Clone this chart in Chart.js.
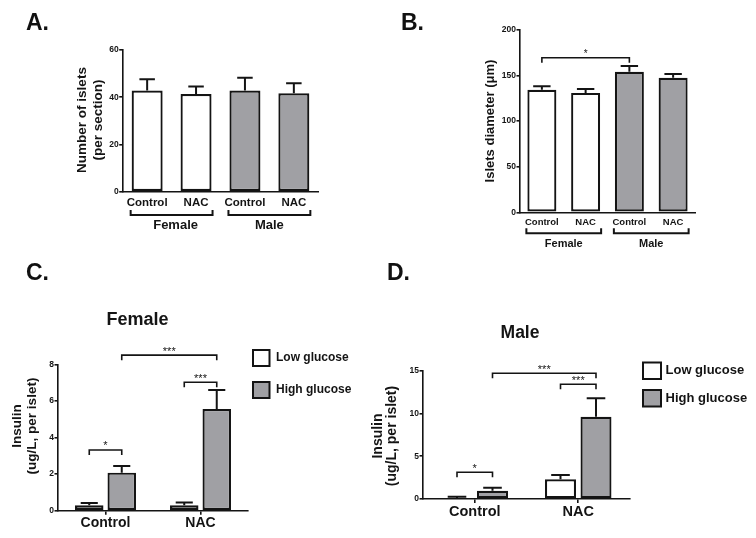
<!DOCTYPE html>
<html><head><meta charset="utf-8">
<script src="https://cdn.jsdelivr.net/npm/chart.js@4"></script>
<style>
html,body{margin:0;padding:0;background:#fff;width:756px;height:538px;overflow:hidden;}
canvas{position:absolute;left:0;top:0;}
.lbl{position:absolute;font:bold 23px "Liberation Sans",Arial,sans-serif;color:#111;line-height:23px;}
</style></head><body>
<canvas id="cA" width="756" height="538"></canvas>
<canvas id="cB" width="756" height="538"></canvas>
<canvas id="cC" width="756" height="538"></canvas>
<canvas id="cD" width="756" height="538"></canvas>
<div class="lbl" style="left:26px;top:11px">A.</div>
<div class="lbl" style="left:401px;top:11px">B.</div>
<div class="lbl" style="left:26px;top:261px">C.</div>
<div class="lbl" style="left:387px;top:261px">D.</div>
<script>
// ---------- data ----------
const treatCats = ['Control', 'NAC', 'Control', 'NAC'];
const sexGroups = ['Female', 'Male'];
const isletCount = [42.8, 41.4, 42.8, 41.7];
const isletCountErr = [4.8, 3.1, 5.4, 4.2];
const isletDiam = [134.5, 131.0, 154.2, 147.5];
const isletDiamErr = [3.8, 4.2, 6.2, 4.1];
const glucoseCats = ['Control', 'NAC'];
const seriesNames = ['Low glucose', 'High glucose'];
const femaleLow = [0.30, 0.30];
const femaleLowErr = [0.12, 0.15];
const femaleHigh = [2.08, 5.56];
const femaleHighErr = [0.36, 1.04];
const maleLow = [0.10, 2.30];
const maleLowErr = [0.17, 0.50];
const maleHigh = [0.97, 9.62];
const maleHighErr = [0.35, 2.15];
const ticksA = [0, 20, 40, 60];
const ticksB = [0, 50, 100, 150, 200];
const ticksC = [0, 2, 4, 6, 8];
const ticksD = [0, 5, 10, 15];
// significance: [dataset, index] pairs, bracket level (data units), label
const sigB = [{from: [0, 0], to: [0, 2], level: 169.6, label: '*'}];
const sigC = [
  {from: [0, 0], to: [1, 0], level: 3.32, label: '*'},
  {from: [0, 1], to: [1, 1], level: 7.02, label: '***'},
  {from: [1, 0], to: [1, 1], level: 8.5, label: '***'}
];
const sigD = [
  {from: [0, 0], to: [1, 0], level: 3.12, label: '*'},
  {from: [0, 1], to: [1, 1], level: 13.41, label: '***'},
  {from: [1, 0], to: [1, 1], level: 14.7, label: '***'}
];

// ---------- style ----------
const FONT = '"Liberation Sans", Arial, Helvetica, sans-serif';
const INK = '#141414';
const GRAY = 'rgb(160,160,164)';
const WHITE = '#ffffff';

const extras = {
  id: 'extras',
  afterDatasetsDraw(chart, args, o) {
    const ctx = chart.ctx, ys = chart.scales.y, ca = chart.chartArea;
    ctx.save();
    ctx.strokeStyle = INK; ctx.fillStyle = INK; ctx.lineCap = 'butt';
    // error bars
    chart.data.datasets.forEach((ds, di) => {
      const meta = chart.getDatasetMeta(di);
      meta.data.forEach((bar, i) => {
        const top = ys.getPixelForValue(ds.data[i] + ds.errors[i]);
        const w = bar.width * (o.capRatio || 0.55);
        ctx.lineWidth = 2;
        ctx.beginPath();
        ctx.moveTo(bar.x, bar.y); ctx.lineTo(bar.x, top);
        ctx.moveTo(bar.x - w / 2, top); ctx.lineTo(bar.x + w / 2, top);
        ctx.stroke();
      });
    });
    // significance brackets
    (o.sig || []).forEach(s => {
      const a = chart.getDatasetMeta(s.from[0]).data[s.from[1]];
      const b = chart.getDatasetMeta(s.to[0]).data[s.to[1]];
      const yy = ys.getPixelForValue(s.level);
      ctx.lineWidth = 1.6;
      ctx.beginPath();
      ctx.moveTo(a.x, yy + 5); ctx.lineTo(a.x, yy); ctx.lineTo(b.x, yy); ctx.lineTo(b.x, yy + 5);
      ctx.stroke();
      ctx.font = (o.starSize || 11) + 'px ' + FONT;
      ctx.textAlign = 'center'; ctx.textBaseline = 'alphabetic';
      ctx.fillText(s.label, (a.x + b.x) / 2, yy - 0.5);
    });
    // group brackets under the x axis
    if (o.groups) {
      const meta = chart.getDatasetMeta(0);
      o.groups.labels.forEach((lab, gi) => {
        const a = meta.data[gi * 2], b = meta.data[gi * 2 + 1];
        const x0 = a.x - a.width / 2 - 1, x1 = b.x + b.width / 2 + 1;
        const yb = ca.bottom + o.groups.lineOff;
        ctx.lineWidth = 2;
        ctx.beginPath();
        ctx.moveTo(x0, yb - 5); ctx.lineTo(x0, yb); ctx.lineTo(x1, yb); ctx.lineTo(x1, yb - 5);
        ctx.stroke();
        ctx.font = 'bold ' + o.groups.size + 'px ' + FONT;
        ctx.textAlign = 'center'; ctx.textBaseline = 'middle';
        ctx.fillText(lab, (x0 + x1) / 2 + (o.groups.dx ? o.groups.dx[gi] : 0), ca.bottom + o.groups.labelOff);
      });
    }
    // y axis title (rotated, possibly two lines)
    if (o.yTitle) {
      ctx.font = 'bold ' + o.yTitle.size + 'px ' + FONT;
      ctx.textAlign = 'center'; ctx.textBaseline = 'middle';
      o.yTitle.lines.forEach((t, i) => {
        ctx.save();
        ctx.translate(o.yTitle.xs[i], o.yTitle.cy);
        ctx.rotate(-Math.PI / 2);
        ctx.fillText(t, 0, 0);
        ctx.restore();
      });
    }
    // chart title
    if (o.title) {
      ctx.font = 'bold ' + o.title.size + 'px ' + FONT;
      ctx.textAlign = 'center'; ctx.textBaseline = 'middle';
      ctx.fillText(o.title.text, o.title.x, o.title.y);
    }
    // legend
    if (o.legend) {
      const L = o.legend;
      chart.data.datasets.forEach((ds, di) => {
        const by = L.ys[di];
        ctx.fillStyle = ds.backgroundColor;
        ctx.fillRect(L.x, by, L.w, L.h);
        ctx.lineWidth = 2; ctx.strokeStyle = INK;
        ctx.strokeRect(L.x, by, L.w, L.h);
        ctx.fillStyle = INK;
        ctx.font = 'bold ' + L.size + 'px ' + FONT;
        ctx.textAlign = 'left'; ctx.textBaseline = 'middle';
        ctx.fillText(ds.label, L.x + L.w + L.gap, by + L.h / 2);
      });
    }
    ctx.restore();
  }
};

function yAxis(ticks, width, tickSize) {
  return {
    min: ticks[0], max: ticks[ticks.length - 1],
    afterBuildTicks: s => { s.ticks = ticks.map(v => ({value: v})); },
    afterFit: s => { s.width = width; },
    border: {color: INK, width: 1.6},
    grid: {drawOnChartArea: false, drawTicks: true, tickLength: 3.5, color: INK, lineWidth: 1.6},
    ticks: {font: {family: FONT, size: tickSize, weight: 'bold'}, color: INK, padding: 0.5}
  };
}
function xAxis(height, size, pad, withTicks) {
  return {
    afterFit: s => { s.height = height; },
    border: {color: INK, width: 1.6},
    grid: withTicks
      ? {display: true, drawOnChartArea: false, drawTicks: true, tickLength: 4, offset: false, color: INK, lineWidth: 1.6}
      : {display: false, drawTicks: false},
    ticks: {font: {family: FONT, size: size, weight: 'bold'}, color: INK, padding: pad, autoSkip: false, maxRotation: 0}
  };
}
function baseOpts(padding, scales, extraOpts) {
  return {
    responsive: false, animation: false, devicePixelRatio: 1, events: [],
    layout: {padding: padding},
    scales: scales,
    plugins: {legend: {display: false}, tooltip: {enabled: false}, extras: extraOpts}
  };
}
const barStyle = {borderColor: INK, borderWidth: 2.2, borderSkipped: false};
const fourColors = [WHITE, WHITE, GRAY, GRAY];

// ---------- Panel A ----------
new Chart(document.getElementById('cA'), {
  type: 'bar',
  data: {labels: treatCats, datasets: [Object.assign({
    label: 'Number of islets', data: isletCount, errors: isletCountErr,
    backgroundColor: fourColors, categoryPercentage: 1, barPercentage: 0.634}, barStyle)]},
  options: baseOpts({left: 92.7, right: 437.7, top: 50, bottom: 306.3},
    {x: xAxis(40, 11.5, 4.4, false), y: yAxis(ticksA, 30, 8.5)},
    {capRatio: 0.5,
     groups: {labels: sexGroups, lineOff: 23.3, labelOff: 33.5, size: 13, dx: [4, 0]},
     yTitle: {lines: ['Number of islets', '(per section)'], xs: [82.5, 98.3], cy: 120, size: 13.5}}),
  plugins: [extras]
});

// ---------- Panel B ----------
new Chart(document.getElementById('cB'), {
  type: 'bar',
  data: {labels: treatCats, datasets: [Object.assign({
    label: 'Islets diameter', data: isletDiam, errors: isletDiamErr,
    backgroundColor: fourColors, categoryPercentage: 1, barPercentage: 0.663}, barStyle)]},
  options: baseOpts({left: 490, right: 61, top: 30, bottom: 285.7},
    {x: xAxis(40, 9.5, 4.3, false), y: yAxis(ticksB, 30, 8.5)},
    {capRatio: 0.6, sig: sigB, starSize: 10,
     groups: {labels: sexGroups, lineOff: 21, labelOff: 32, size: 11},
     yTitle: {lines: ['Islets diameter (\u03bcm)'], xs: [490.7], cy: 121, size: 13}}),
  plugins: [extras]
});

// ---------- Panel C ----------
new Chart(document.getElementById('cC'), {
  type: 'bar',
  data: {labels: glucoseCats, datasets: [
    Object.assign({label: seriesNames[0], data: femaleLow, errors: femaleLowErr, backgroundColor: WHITE,
      categoryPercentage: 0.684, barPercentage: 0.877}, barStyle),
    Object.assign({label: seriesNames[1], data: femaleHigh, errors: femaleHighErr, backgroundColor: GRAY,
      categoryPercentage: 0.684, barPercentage: 0.877}, barStyle)
  ]},
  options: baseOpts({left: 28, right: 508, top: 364.3, bottom: 7.3},
    {x: xAxis(20, 14, 0, true), y: yAxis(ticksC, 30, 8.5)},
    {capRatio: 0.6, sig: sigC, starSize: 11,
     yTitle: {lines: ['Insulin', '(ug/L, per islet)'], xs: [17, 32], cy: 426, size: 13.5},
     title: {text: 'Female', x: 137.5, y: 320, size: 18},
     legend: {x: 253, ys: [350, 382], w: 16.5, h: 16, gap: 6.5, size: 12}}),
  plugins: [extras]
});

// ---------- Panel D ----------
new Chart(document.getElementById('cD'), {
  type: 'bar',
  data: {labels: glucoseCats, datasets: [
    Object.assign({label: seriesNames[0], data: maleLow, errors: maleLowErr, backgroundColor: WHITE,
      categoryPercentage: 0.686, barPercentage: 0.873}, barStyle),
    Object.assign({label: seriesNames[1], data: maleHigh, errors: maleHighErr, backgroundColor: GRAY,
      categoryPercentage: 0.686, barPercentage: 0.873}, barStyle)
  ]},
  options: baseOpts({left: 393, right: 126, top: 370.7, bottom: 9},
    {x: xAxis(30, 14.5, 0, true), y: yAxis(ticksD, 30, 8.5)},
    {capRatio: 0.6, sig: sigD, starSize: 11,
     yTitle: {lines: ['Insulin', '(ug/L, per islet)'], xs: [378, 392.5], cy: 436, size: 14},
     title: {text: 'Male', x: 520, y: 333.3, size: 17.5},
     legend: {x: 643, ys: [362.5, 390], w: 18, h: 16.5, gap: 4.5, size: 13}}),
  plugins: [extras]
});
</script>
</body></html>
